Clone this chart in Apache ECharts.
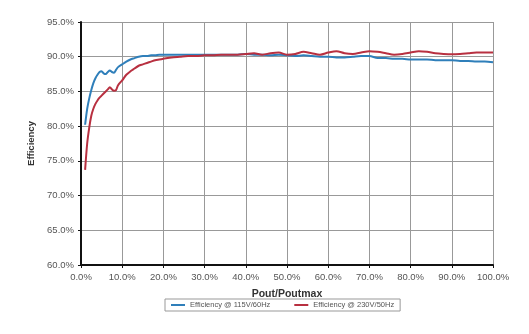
<!DOCTYPE html>
<html><head><meta charset="utf-8">
<script src="https://cdn.jsdelivr.net/npm/echarts@6/dist/echarts.min.js"></script>
<style>html,body{margin:0;padding:0;background:#fff}#c{width:529px;height:334px}</style>
</head><body><div id="c"></div>
<script>
var xValues = [1,1.5,2,2.5,3,3.5,4,4.5,5,5.5,6,6.5,7,7.5,8,8.5,9,
  10,11,12,13,14,15,16,17,18,19,20,
  22,24,26,28,30,32,34,36,38,40,42,44,46,48,50,52,54,56,58,60,
  62,64,66,68,70,72,74,76,78,80,82,84,86,88,90,92,94,96,98,100];
var eff115 = [80.2,82.5,84.0,85.2,86.2,86.9,87.4,87.8,87.9,87.6,87.5,87.8,88.0,87.8,87.7,88.1,88.5,
  88.9,89.3,89.6,89.8,90.0,90.1,90.1,90.2,90.2,90.3,90.3,
  90.3,90.3,90.3,90.3,90.3,90.3,90.3,90.3,90.3,90.4,90.3,90.3,90.2,90.3,90.2,90.1,90.2,90.1,90.0,90.0,
  89.9,89.9,90.0,90.1,90.1,89.8,89.8,89.7,89.7,89.6,89.6,89.6,89.5,89.5,89.5,89.4,89.4,89.3,89.3,89.2];
var eff230 = [73.7,77.5,79.8,81.5,82.5,83.2,83.7,84.1,84.4,84.7,85.0,85.3,85.6,85.3,85.1,85.2,85.9,
  86.6,87.4,87.9,88.3,88.7,88.9,89.1,89.3,89.5,89.6,89.7,
  89.9,90.0,90.1,90.1,90.2,90.2,90.3,90.3,90.3,90.4,90.5,90.3,90.5,90.6,90.3,90.4,90.7,90.5,90.3,90.6,
  90.8,90.5,90.4,90.6,90.8,90.7,90.5,90.3,90.4,90.6,90.8,90.7,90.5,90.4,90.35,90.4,90.5,90.6,90.6,90.6];
var seriesNames = ['Efficiency @ 115V/60Hz','Efficiency @ 230V/50Hz'];
var xTitle = 'Pout/Poutmax';
var yTitle = 'Efficiency';

function pairs(ys){ return xValues.map(function(x,i){ return [x, ys[i]]; }); }
var chart = echarts.init(document.getElementById('c'));
var FF = 'Liberation Sans, Arial, sans-serif';
var tickFont = {fontFamily:FF, fontSize:9.5, color:'#555'};
chart.setOption({
  animation:false,
  grid:{left:81, right:36, top:22, bottom:69},
  legend:{
    data:seriesNames, left:165, top:299, itemWidth:14, itemHeight:2, itemGap:24,
    borderColor:'#999', borderWidth:1, padding:[2,6], icon:'rect',
    textStyle:{fontFamily:FF, fontSize:7.5, color:'#555'}
  },
  xAxis:{
    type:'value', min:0, max:100, interval:10,
    name:xTitle, nameLocation:'middle', nameGap:24,
    nameTextStyle:{fontFamily:FF, fontSize:10.5, fontWeight:'bold', color:'#333'},
    axisLine:{lineStyle:{color:'#111', width:2}},
    axisTick:{show:true, length:3, lineStyle:{color:'#111'}},
    axisLabel:Object.assign({formatter:function(v){return v.toFixed(1)+'%';}, margin:7}, tickFont),
    splitLine:{show:true, lineStyle:{color:'#999', width:1}}
  },
  yAxis:{
    type:'value', min:60, max:95, interval:5,
    name:yTitle, nameLocation:'middle', nameGap:42, nameRotate:90,
    nameTextStyle:{fontFamily:FF, fontSize:9.5, fontWeight:'bold', color:'#333'},
    axisLine:{show:true, lineStyle:{color:'#111', width:2}},
    axisTick:{show:true, length:3, lineStyle:{color:'#111'}},
    axisLabel:Object.assign({formatter:function(v){return v.toFixed(1)+'%';}, margin:7}, tickFont),
    splitLine:{show:true, lineStyle:{color:'#999', width:1}}
  },
  series:[
    {name:seriesNames[0], type:'line', data:pairs(eff115), smooth:0.3, showSymbol:false,
     lineStyle:{color:'#2f7fba', width:2}, itemStyle:{color:'#2f7fba'}},
    {name:seriesNames[1], type:'line', data:pairs(eff230), smooth:0.3, showSymbol:false,
     lineStyle:{color:'#b83040', width:2}, itemStyle:{color:'#b83040'}}
  ]
});
</script></body></html>
